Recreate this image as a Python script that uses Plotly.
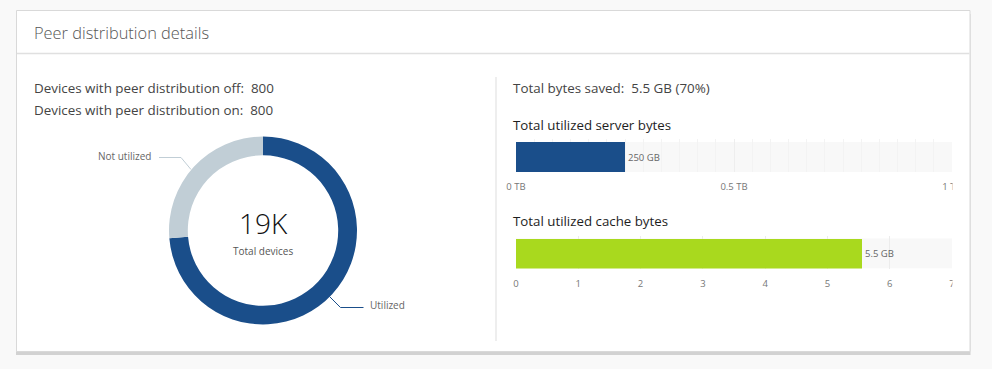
import plotly.graph_objects as go

W, H = 992, 369

# ---- data ----
donut_labels = ["Utilized", "Not utilized"]
donut_values = [14000, 5000]
donut_colors = ["#1a4e8a", "#c1ced6"]
total_label = "19K"
total_caption = "Total devices"

peer_off = 800
peer_on = 800
bytes_saved_text = "5.5 GB (70%)"

server_category = ["server"]
server_tb = [0.25]
server_text = ["250 GB"]
server_tickvals = [0, 0.5, 1]
server_ticktext = ["0 TB", "0.5 TB", "1 TB"]

cache_category = ["cache"]
cache_gb = [5.55]
cache_text = ["5.5 GB"]
cache_tickvals = [0, 1, 2, 3, 4, 5, 6, 7]

FONT = "'Open Sans', Lato, sans-serif"


def px(x):
    return x / W


def py(y):
    return 1 - y / H


fig = go.Figure()

# donut (first slice starts at 12 o'clock and runs clockwise)
fig.add_trace(go.Pie(
    labels=donut_labels, values=donut_values, hole=0.8, sort=False,
    direction="clockwise", rotation=0,
    marker=dict(colors=donut_colors, line=dict(width=0)),
    textinfo="none", hoverinfo="label+value", showlegend=False,
    domain=dict(x=[px(169), px(357)], y=[py(324.5), py(136.5)]),
))

# server bar
fig.add_trace(go.Bar(
    x=server_tb, y=server_category, orientation="h", width=1,
    marker=dict(color="#1a4e8a", line=dict(width=0)),
    text=server_text, textposition="outside", cliponaxis=False,
    textfont=dict(size=9.5, color="#666666", family=FONT),
    xaxis="x", yaxis="y", showlegend=False,
))
# cache bar
fig.add_trace(go.Bar(
    x=cache_gb, y=cache_category, orientation="h", width=1,
    marker=dict(color="#a9d91e", line=dict(width=0)),
    text=cache_text, textposition="outside", cliponaxis=False,
    textfont=dict(size=9.5, color="#666666", family=FONT),
    xaxis="x2", yaxis="y2", showlegend=False,
))

tickfont = dict(size=9.5, color="#777777", family=FONT)
axis_common = dict(showline=False, zeroline=False, ticks="outside", ticklen=6,
                   tickcolor="rgba(0,0,0,0)", tickfont=tickfont, fixedrange=True)

shapes = []
# card shadow + card
shapes.append(dict(type="rect", xref="paper", yref="paper",
                   x0=px(16), x1=px(970.5), y0=py(355), y1=py(14),
                   fillcolor="#d2d2d2", line=dict(width=0), layer="below"))
shapes.append(dict(type="rect", xref="paper", yref="paper",
                   x0=px(16.5), x1=px(970), y0=py(351.5), y1=py(10.5),
                   fillcolor="#ffffff", line=dict(color="#d9d9d9", width=1), layer="below"))
# header separator
shapes.append(dict(type="line", xref="paper", yref="paper",
                   x0=px(17), x1=px(969.5), y0=py(53.5), y1=py(53.5),
                   line=dict(color="#e0e0e0", width=1.5), layer="below"))
# vertical divider
shapes.append(dict(type="line", xref="paper", yref="paper",
                   x0=px(496), x1=px(496), y0=py(77), y1=py(341),
                   line=dict(color="#dddddd", width=1), layer="below"))
# tracks
for xa, ya in (("x", "y"), ("x2", "y2")):
    shapes.append(dict(type="rect", xref=xa + " domain", yref=ya,
                       x0=0, x1=1, y0=-0.5, y1=0.5,
                       fillcolor="#f8f8f8", line=dict(width=0), layer="below"))
# leader lines
shapes.append(dict(type="path", xref="paper", yref="paper",
                   path=f"M {px(159)} {py(157.5)} L {px(181)} {py(157.5)} L {px(191)} {py(169.5)}",
                   line=dict(color=donut_colors[1], width=1)))
shapes.append(dict(type="path", xref="paper", yref="paper",
                   path=f"M {px(329.5)} {py(296.5)} L {px(340.5)} {py(307.5)} L {px(363.5)} {py(307.5)}",
                   line=dict(color=donut_colors[0], width=1)))
# clip tick labels at the right edge of the tracks
shapes.append(dict(type="rect", xref="paper", yref="paper",
                   x0=px(952.5), x1=px(962), y0=py(290), y1=py(175),
                   fillcolor="#ffffff", line=dict(width=0), layer="above"))

annotations = []


def ann(x, y, text, size, color, anchor="left", yanchor="middle", weight=400, family=FONT):
    annotations.append(dict(x=px(x), y=py(y), xref="paper", yref="paper",
                            text=text, showarrow=False, xanchor=anchor, yanchor=yanchor,
                            borderpad=0,
                            font=dict(size=size, color=color, family=family, weight=weight)))


ann(33, 32, "Peer distribution details", 16.4, "#565656", weight=300)
ann(33, 87.5, f"Devices with peer distribution off:&nbsp; {peer_off}", 13.4, "#444444")
ann(33, 109.5, f"Devices with peer distribution on:&nbsp; {peer_on}", 13.4, "#444444")
ann(512, 87.5, f"Total bytes saved:&nbsp; {bytes_saved_text}", 13.4, "#444444")
ann(512, 124.5, "Total utilized server bytes", 13.3, "#1e1e1e", weight=500)
ann(512, 221, "Total utilized cache bytes", 13.3, "#1e1e1e", weight=500)
ann(97, 156, donut_labels[1], 10, "#666666")
ann(369, 305, donut_labels[0], 10, "#666666")
ann(263, 243, total_label, 28, "#111111", anchor="center", yanchor="bottom", weight=300)
ann(263, 243, total_caption, 10, "#555555", anchor="center", yanchor="top")

fig.update_layout(
    width=W, height=H, autosize=False,
    margin=dict(l=0, r=0, t=0, b=0, pad=0, autoexpand=False),
    paper_bgcolor="#f9f9f9",
    plot_bgcolor="rgba(0,0,0,0)",
    font=dict(family=FONT),
    bargap=0,
    xaxis=dict(domain=[px(516), px(952)], range=[0, 1], anchor="y",
               tickvals=server_tickvals, ticktext=server_ticktext,
               showgrid=True, gridcolor="#eeeeee", gridwidth=1,
               minor=dict(dtick=1 / 24, tick0=0, showgrid=True, gridcolor="#f3f3f3", gridwidth=1),
               **axis_common),
    yaxis=dict(domain=[py(172), py(139)], range=[-0.5, 0.6], anchor="x",
               showticklabels=False, showgrid=False, zeroline=False, showline=False,
               fixedrange=True),
    xaxis2=dict(domain=[px(516), px(952)], range=[0, 7], anchor="y2",
                tickvals=cache_tickvals,
                showgrid=True, gridcolor="#ececec", gridwidth=1,
                **axis_common),
    yaxis2=dict(domain=[py(268.5), py(235.5)], range=[-0.5, 0.6], anchor="x2",
                showticklabels=False, showgrid=False, zeroline=False, showline=False,
                fixedrange=True),
    shapes=shapes,
    annotations=annotations,
)

post = (
    "document.body.style.margin='0px';"
    "document.body.style.overflow='hidden';"
    "var gd=document.getElementById('{plot_id}');"
    "gd.style.width='992px';gd.style.height='369px';"
    "Plotly.relayout(gd,{width:992,height:369,autosize:false});"
)
fig.write_html("out.html", config={"displayModeBar": False, "responsive": False},
               post_script=post)
